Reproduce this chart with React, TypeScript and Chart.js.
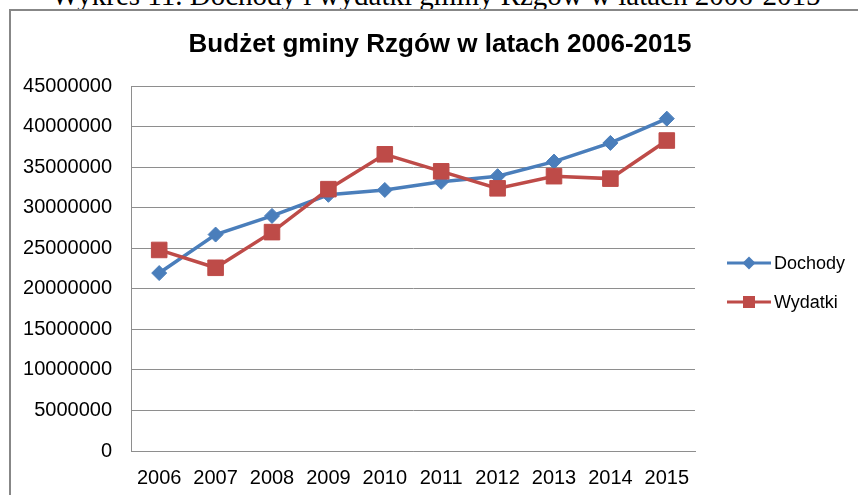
import React, { useEffect, useRef } from "react";
import { Chart, registerables } from "chart.js";

Chart.register(...registerables);

const caption = "Wykres 11. Dochody i wydatki gminy Rzgów w latach 2006-2015";
const title = "Budżet gminy Rzgów w latach 2006-2015";
const years = ["2006", "2007", "2008", "2009", "2010", "2011", "2012", "2013", "2014", "2015"];
const dochody = [21950000, 26700000, 29000000, 31600000, 32200000, 33200000, 33900000, 35700000, 38000000, 41000000];
const wydatki = [24800000, 22600000, 27000000, 32300000, 36600000, 34500000, 32400000, 33900000, 33600000, 38300000];
const seriesNames = ["Dochody", "Wydatki"];
const yMax = 45000000;
const yStep = 5000000;

const BLUE = "#4A7EBB";
const RED = "#BE4B48";
const GRID = "#8e8e8e";
const FONT = "'Liberation Sans', Arial, sans-serif";

const legendPlugin = {
  id: "excelLegend",
  afterDraw(chart: any) {
    const ctx = chart.ctx;
    const items = [
      { name: seriesNames[0], color: BLUE, shape: "diamond", y: 263 },
      { name: seriesNames[1], color: RED, shape: "square", y: 302 },
    ];
    ctx.save();
    for (const it of items) {
      ctx.strokeStyle = it.color;
      ctx.fillStyle = it.color;
      ctx.lineWidth = 3;
      ctx.beginPath();
      ctx.moveTo(727, it.y);
      ctx.lineTo(771, it.y);
      ctx.stroke();
      const cx = 749;
      ctx.beginPath();
      if (it.shape === "diamond") {
        const r = 6.5;
        ctx.moveTo(cx, it.y - r);
        ctx.lineTo(cx + r, it.y);
        ctx.lineTo(cx, it.y + r);
        ctx.lineTo(cx - r, it.y);
        ctx.closePath();
      } else {
        const h = 6;
        ctx.rect(cx - h, it.y - h, 2 * h, 2 * h);
      }
      ctx.fill();
      ctx.fillStyle = "#000";
      ctx.font = `18px ${FONT}`;
      ctx.textBaseline = "middle";
      ctx.textAlign = "left";
      ctx.fillText(it.name, 774, it.y + 1);
    }
    ctx.restore();
  },
};

export default function App() {
  const ref = useRef<HTMLCanvasElement | null>(null);

  useEffect(() => {
    if (!ref.current) return;
    const chart = new Chart(ref.current, {
      type: "line",
      data: {
        labels: years,
        datasets: [
          {
            label: seriesNames[0],
            data: dochody,
            borderColor: BLUE,
            backgroundColor: BLUE,
            borderWidth: 3.5,
            pointStyle: "rectRot",
            pointRadius: 7.5,
            pointBorderWidth: 1,
            tension: 0,
            order: 1,
          },
          {
            label: seriesNames[1],
            data: wydatki,
            borderColor: RED,
            backgroundColor: RED,
            borderWidth: 3.5,
            pointStyle: "rect",
            pointRadius: 11,
            pointBorderWidth: 1,
            tension: 0,
            order: 0,
          },
        ],
      },
      options: {
        responsive: false,
        animation: false,
        layout: { padding: { left: 22, right: 0, top: 0, bottom: 0 } },
        plugins: {
          legend: { display: false },
          tooltip: { enabled: false },
          title: {
            display: true,
            text: title,
            color: "#000",
            font: { family: FONT, size: 26, weight: "bold" },
            padding: { top: 29, bottom: 26 },
          },
        },
        scales: {
          x: {
            offset: true,
            grid: { display: false, drawTicks: false, offset: true },
            border: { display: true, color: GRID, width: 1 },
            ticks: { color: "#000", font: { family: FONT, size: 20 }, padding: 15, maxRotation: 0 },
            afterFit: (s: any) => {
              s.height = 44;
            },
          },
          y: {
            min: 0,
            max: yMax,
            grid: { color: GRID, lineWidth: 1, drawTicks: false },
            border: { display: true, color: GRID, width: 1 },
            ticks: {
              stepSize: yStep,
              color: "#000",
              font: { family: FONT, size: 20 },
              padding: 19,
              callback: (v: any) => String(v),
            },
            afterFit: (s: any) => {
              s.width = 109;
            },
          },
          yRight: {
            position: "right",
            display: true,
            grid: { display: false, drawOnChartArea: false, drawTicks: false },
            border: { display: false },
            ticks: { display: false },
            afterFit: (s: any) => {
              s.width = 163;
            },
          },
        },
      },
      plugins: [legendPlugin],
    } as any);
    return () => chart.destroy();
  }, []);

  return (
    <div
      style={{
        position: "fixed",
        left: 0,
        top: 0,
        width: 858,
        height: 495,
        overflow: "hidden",
        background: "#fff",
      }}
    >
      <div
        style={{
          position: "absolute",
          left: 0,
          width: 872,
          top: -19,
          textAlign: "center",
          fontFamily: "'Liberation Serif', 'Times New Roman', serif",
          fontSize: 29,
          lineHeight: "29px",
          whiteSpace: "nowrap",
          color: "#000",
        }}
      >
        {caption}
      </div>
      <div
        style={{
          position: "absolute",
          left: 9,
          top: 9,
          width: 900,
          height: 600,
          borderLeft: "2px solid #878787",
          borderTop: "2px solid #878787",
        }}
      />
      <canvas ref={ref} width={858} height={495} style={{ position: "absolute", left: 0, top: 0 }} />
    </div>
  );
}
